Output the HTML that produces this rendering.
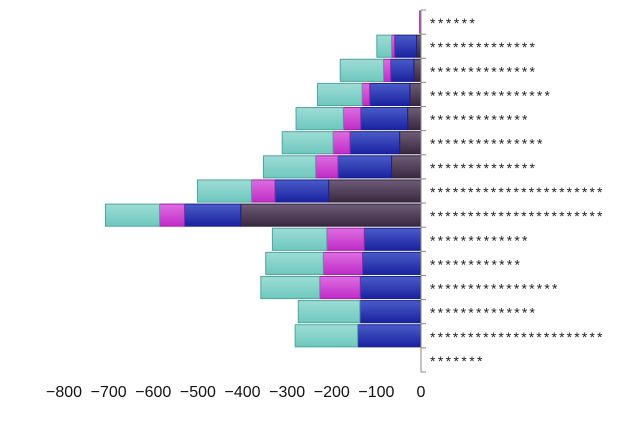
<!DOCTYPE html>
<html><head><meta charset="utf-8"><style>html,body{margin:0;padding:0;background:#fff}</style></head>
<body>
<svg id="chart" width="639" height="428" xmlns="http://www.w3.org/2000/svg" font-family="Liberation Sans, sans-serif">
<defs>
<linearGradient id="g0" x1="0" y1="0" x2="0" y2="1"><stop offset="0" stop-color="#6e5c78"/><stop offset="1" stop-color="#3a2840"/></linearGradient>
<linearGradient id="g1" x1="0" y1="0" x2="0" y2="1"><stop offset="0" stop-color="#4a5cc8"/><stop offset="1" stop-color="#1a22a0"/></linearGradient>
<linearGradient id="g2" x1="0" y1="0" x2="0" y2="1"><stop offset="0" stop-color="#dc6ee0"/><stop offset="1" stop-color="#c02cc8"/></linearGradient>
<linearGradient id="g3" x1="0" y1="0" x2="0" y2="1"><stop offset="0" stop-color="#9edcd6"/><stop offset="1" stop-color="#6ec8be"/></linearGradient>
</defs>
<g id="bars"></g>
<g id="axis"></g>
</svg>
<script>
const categories = ["******","**************","**************","****************","*************","***************","**************","***********************","***********************","*************","************","*****************","**************","***********************","*******"];
const seriesDark = [0,10,16,25,30,48,66,207,404,0,0,0,0,0,0];
const seriesBlue = [0,49,52,90,105,111,120,120,126,127,131,136,137,142,0];
const seriesMagenta = [3,7,16,17,39,38,50,53,56,84,88,91,0,0,0];
const seriesTeal = [0,33,97,100,106,114,117,121,121,122,129,132,138,140,0];
const tickValues = [-800,-700,-600,-500,-400,-300,-200,-100,0];
const tickLabels = ["\u2212800","\u2212700","\u2212600","\u2212500","\u2212400","\u2212300","\u2212200","\u2212100","0"];

const NS="http://www.w3.org/2000/svg";
const x0=421, pxPer=357/800, yTop=10, rowH=(372-10)/15;
const xScale=v=>x0+v*pxPer;
const yScale=i=>yTop+i*rowH;
const bars=document.getElementById('bars'), axis=document.getElementById('axis');
const series=[[seriesDark,'url(#g0)','#2e2036','dark'],[seriesBlue,'url(#g1)','#1a2090','blue'],[seriesMagenta,'url(#g2)','#a020a8','magenta'],[seriesTeal,'url(#g3)','#50a49c','teal']];
categories.forEach((c,i)=>{
  let acc=0;
  series.forEach(([arr,fill,stroke,nm])=>{
    const v=arr[i]; if(v<=0) return;
    const r=document.createElementNS(NS,'rect');
    
    
    const xa=xScale(-acc), xb=xScale(-(acc+v));
    r.setAttribute('x',xb); r.setAttribute('width',xa-xb);
    r.setAttribute('y',yScale(i)+1); r.setAttribute('height',rowH-2);
    r.setAttribute('fill',fill); r.setAttribute('stroke',stroke); r.setAttribute('stroke-width','1');
    bars.appendChild(r); acc+=v;
  });
  const t=document.createElementNS(NS,'text');
  
  
  t.setAttribute('x',430); t.setAttribute('y',yScale(i)+rowH/2+6);
  t.setAttribute('font-size','14'); t.setAttribute('fill','#222');
  t.setAttribute('textLength',c.length*7.5); t.setAttribute('lengthAdjust','spacing');
  t.textContent=c; axis.appendChild(t);
});
const ax=document.createElementNS(NS,'line');


ax.setAttribute('x1',x0);ax.setAttribute('x2',x0);ax.setAttribute('y1',yTop);ax.setAttribute('y2',yScale(15));
ax.setAttribute('stroke','#888');axis.appendChild(ax);
for(let i=0;i<=15;i++){
  const l=document.createElementNS(NS,'line');
  
  
  l.setAttribute('x1',x0);l.setAttribute('x2',x0+5);l.setAttribute('y1',yScale(i));l.setAttribute('y2',yScale(i));
  l.setAttribute('stroke','#888');axis.appendChild(l);
}
tickValues.forEach((v,k)=>{
  const t=document.createElementNS(NS,'text');
  
  
  t.setAttribute('x',xScale(v));t.setAttribute('y',397);t.setAttribute('text-anchor','middle');
  t.setAttribute('font-size','16');t.setAttribute('fill','#111');
  t.textContent=tickLabels[k];axis.appendChild(t);
});
</script>
</body></html>
